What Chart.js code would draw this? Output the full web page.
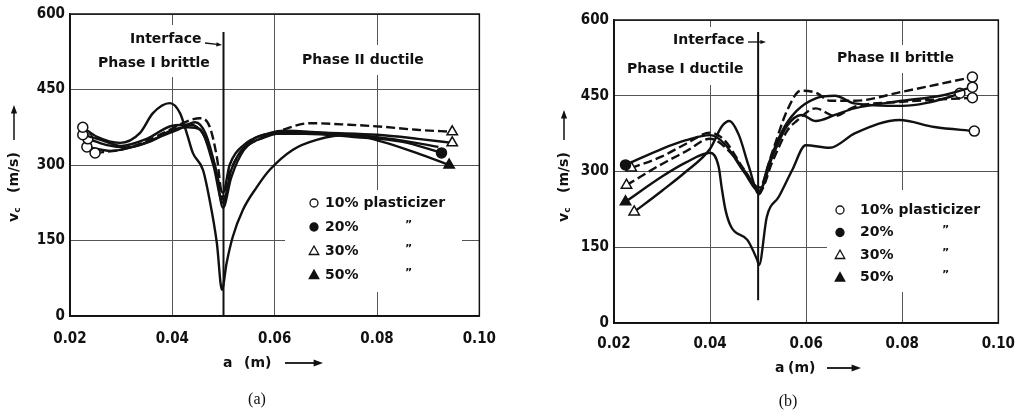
<!DOCTYPE html>
<html>
<head>
<meta charset="utf-8">
<script src="https://cdn.jsdelivr.net/npm/chart.js@4.4.1/dist/chart.umd.min.js"></script>
<style>
  body { margin: 0; background: #fff; width: 1027px; height: 412px; overflow: hidden; position: relative; }
  canvas { position: absolute; top: 0; }
  #chart-a { left: 0; }
  #chart-b { left: 510px; }
</style>
</head>
<body>
<canvas id="chart-a" width="510" height="412"></canvas>
<canvas id="chart-b" width="517" height="412"></canvas>
<script>
// axis ticks (both panels)
const xTicks = [0.02, 0.04, 0.06, 0.08, 0.1];
const yTicks = [0, 150, 300, 450, 600];
const interfaceX = 0.05;

const legendLabels = ["10% plasticizer", "20%", "30%", "50%"];
const legendMarks = ["circleOpen", "circleFilled", "triOpen", "triFilled"];

// panel (a): phase I brittle / phase II ductile
const a50X = [0.0225, 0.0253, 0.0298, 0.0337, 0.0362, 0.0395, 0.0415, 0.0428, 0.044, 0.046, 0.0473, 0.0487, 0.0497, 0.0506, 0.0518, 0.0538, 0.0565, 0.059, 0.0635, 0.0682, 0.0746, 0.0811, 0.0877, 0.0941];
const a50Y = [375, 356, 344, 364, 403, 423, 403, 364, 324, 290, 230, 145, 52, 105, 157, 211, 256, 290, 330, 350, 360, 346, 324, 300];
const a30dashX = [0.0249, 0.0298, 0.0342, 0.0395, 0.042, 0.0454, 0.0473, 0.0487, 0.0499, 0.0512, 0.0538, 0.0571, 0.0616, 0.0668, 0.0746, 0.0811, 0.0877, 0.0947];
const a30dashY = [324, 330, 344, 370, 383, 393, 376, 316, 232, 284, 330, 352, 370, 383, 380, 376, 370, 366];
const a30X = [0.0225, 0.026, 0.03, 0.035, 0.04, 0.0435, 0.046, 0.048, 0.0499, 0.0512, 0.054, 0.058, 0.062, 0.07, 0.08, 0.088, 0.0947];
const a30Y = [360, 350, 338, 352, 378, 380, 362, 310, 245, 300, 340, 360, 368, 364, 360, 352, 344];
const a20X = [0.0235, 0.027, 0.031, 0.036, 0.04, 0.043, 0.0455, 0.048, 0.0499, 0.0515, 0.055, 0.06, 0.066, 0.075, 0.085, 0.0926];
const a20Y = [352, 340, 335, 348, 370, 375, 370, 300, 225, 290, 345, 362, 362, 356, 346, 324];
const aOtherX = [0.0233, 0.028, 0.033, 0.038, 0.041, 0.0445, 0.0465, 0.0485, 0.0499, 0.0515, 0.054, 0.058, 0.064, 0.072, 0.08, 0.087, 0.092];
const aOtherY = [336, 328, 338, 358, 370, 385, 362, 290, 215, 275, 330, 355, 366, 362, 355, 345, 336];

// panel (b): phase I ductile / phase II brittle
const b20X = [0.0224, 0.03, 0.035, 0.04, 0.043, 0.047, 0.0502, 0.053, 0.056, 0.059, 0.062, 0.066, 0.07, 0.08, 0.088, 0.0946];
const b20Y = [313, 345, 362, 372, 355, 300, 262, 330, 390, 412, 400, 412, 425, 440, 450, 467];
const b30aX = [0.0236, 0.03, 0.035, 0.04, 0.043, 0.047, 0.0502, 0.053, 0.056, 0.0589, 0.062, 0.065, 0.07, 0.08, 0.0946];
const b30aY = [307, 330, 355, 377, 362, 305, 268, 340, 420, 460, 456, 440, 440, 458, 487];
const b30bX = [0.0226, 0.03, 0.035, 0.04, 0.044, 0.048, 0.0502, 0.053, 0.056, 0.058, 0.062, 0.066, 0.07, 0.08, 0.0946];
const b30bY = [273, 315, 340, 365, 340, 290, 258, 320, 380, 400, 425, 410, 428, 438, 446];
const b50X = [0.0224, 0.03, 0.035, 0.04, 0.0418, 0.0424, 0.0432, 0.0444, 0.0478, 0.0498, 0.0502, 0.0518, 0.0543, 0.0571, 0.0599, 0.0649, 0.0702, 0.0794, 0.0867, 0.095];
const b50Y = [240, 290, 318, 337, 309, 269, 224, 190, 164, 125, 115, 210, 250, 303, 352, 347, 376, 402, 388, 380];
const b30cX = [0.0242, 0.03, 0.035, 0.04, 0.0425, 0.044, 0.046, 0.048, 0.0502, 0.052, 0.055, 0.058, 0.062, 0.066, 0.07, 0.08, 0.09, 0.092];
const b30cY = [220, 262, 300, 345, 390, 400, 372, 312, 255, 310, 380, 420, 445, 450, 435, 430, 448, 455];

const ink = "#111";
const fontSans = "'DejaVu Sans', sans-serif";
const tickFont = { size: 15, weight: "bold", family: "'DejaVu Sans Condensed', " + fontSans };

function makeSet(xs, ys, startMark, endMark, dashed) {
  const n = xs.length;
  const radius = [], style = [], fill = [];
  for (let i = 0; i < n; i++) {
    const m = i === 0 ? startMark : i === n - 1 ? endMark : null;
    radius.push(m ? (m.startsWith("tri") ? 6 : 5) : 0);
    style.push(m && m.startsWith("tri") ? "triangle" : "circle");
    fill.push(m && m.endsWith("Filled") ? ink : "#fff");
  }
  return {
    data: xs.map((x, i) => ({ x: x, y: ys[i] })),
    borderColor: ink,
    borderWidth: 2.4,
    borderDash: dashed ? [9, 4] : [],
    cubicInterpolationMode: "monotone",
    pointRadius: radius,
    pointStyle: style,
    pointBackgroundColor: fill,
    pointBorderColor: ink,
    pointBorderWidth: 1.5,
  };
}

function drawMark(ctx, kind, x, y, r) {
  ctx.beginPath();
  if (kind.startsWith("tri")) {
    ctx.moveTo(x, y - r);
    ctx.lineTo(x + r * 0.95, y + r * 0.7);
    ctx.lineTo(x - r * 0.95, y + r * 0.7);
    ctx.closePath();
  } else {
    ctx.arc(x, y, r * 0.8, 0, Math.PI * 2);
  }
  ctx.fillStyle = kind.endsWith("Filled") ? ink : "#fff";
  ctx.fill();
  ctx.lineWidth = 1.3;
  ctx.strokeStyle = ink;
  ctx.stroke();
}

function drawArrow(ctx, x1, y1, x2, y2, head) {
  const ang = Math.atan2(y2 - y1, x2 - x1);
  ctx.beginPath();
  ctx.moveTo(x1, y1);
  ctx.lineTo(x2 - Math.cos(ang) * head * 0.8, y2 - Math.sin(ang) * head * 0.8);
  ctx.stroke();
  ctx.beginPath();
  ctx.moveTo(x2, y2);
  ctx.lineTo(x2 - head * Math.cos(ang - 0.35), y2 - head * Math.sin(ang - 0.35));
  ctx.lineTo(x2 - head * Math.cos(ang + 0.35), y2 - head * Math.sin(ang + 0.35));
  ctx.closePath();
  ctx.fill();
}

function decorPlugin(p) {
  return {
    id: "decor",
    beforeDatasetsDraw(chart) {
      const ctx = chart.ctx;
      const xs = chart.scales.x;
      const ys = chart.scales.y;
      const area = chart.chartArea;
      ctx.save();
      // white patches behind the labels and legend hide the grid
      ctx.fillStyle = "#fff";
      p.boxes.forEach((b) => ctx.fillRect(b[0], b[1], b[2], b[3]));
      ctx.strokeStyle = ink;
      ctx.lineWidth = 1.5;
      ctx.strokeRect(area.left, area.top, area.right - area.left, area.bottom - area.top);
      const ix = xs.getPixelForValue(interfaceX);
      ctx.lineWidth = 2;
      ctx.beginPath();
      ctx.moveTo(ix, ys.getPixelForValue(p.ifaceLow));
      ctx.lineTo(ix, ys.getPixelForValue(p.ifaceHigh));
      ctx.stroke();
      ctx.restore();
    },
    afterDraw(chart) {
      const ctx = chart.ctx;
      ctx.save();
      ctx.fillStyle = ink;
      ctx.strokeStyle = ink;
      ctx.textBaseline = "middle";
      ctx.textAlign = "left";
      ctx.font = "bold 14px " + fontSans;

      // labels inside the plot
      p.notes.forEach((t) => ctx.fillText(t[0], t[1], t[2]));
      ctx.lineWidth = 1.3;
      drawArrow(ctx, p.ifaceArrow[0], p.ifaceArrow[1], p.ifaceArrow[2], p.ifaceArrow[3], 6);

      // legend
      legendLabels.forEach((lab, i) => {
        const y = p.legend.y + i * p.legend.step;
        drawMark(ctx, legendMarks[i], p.legend.mark, y, 5);
        ctx.fillStyle = ink;
        ctx.font = "bold 14px " + fontSans;
        ctx.fillText(lab, p.legend.text, y);
        if (i > 0) {
          ctx.font = "bold 11px " + fontSans;
          ctx.fillText("\u201D", p.legend.ditto, y - 2);
        }
      });

      // y axis title: v_c (m/s) with arrow, read bottom to top
      ctx.save();
      ctx.translate(p.yTitle.x, p.yTitle.y);
      ctx.rotate(-Math.PI / 2);
      ctx.font = "bold 14px " + fontSans;
      ctx.fillText("v", 0, 0);
      const vw = ctx.measureText("v").width;
      ctx.font = "bold 9px " + fontSans;
      ctx.fillText("c", vw, 4);
      ctx.font = "bold 14px " + fontSans;
      ctx.fillText("(m/s)", 29, 0);
      ctx.lineWidth = 1.5;
      drawArrow(ctx, 82, 0, p.yTitle.arrowEnd, 0, 9);
      ctx.restore();

      // x axis title: a (m) with arrow
      ctx.font = "bold 14px " + fontSans;
      ctx.fillText("a", p.xTitle.a, p.xTitle.y);
      ctx.fillText("(m)", p.xTitle.m, p.xTitle.y);
      ctx.lineWidth = 1.8;
      drawArrow(ctx, p.xTitle.arrow[0], p.xTitle.y, p.xTitle.arrow[1], p.xTitle.y, 10);

      // panel caption
      ctx.font = "16px 'Liberation Serif', serif";
      ctx.textAlign = "center";
      ctx.fillText(p.caption[0], p.caption[1], p.caption[2]);
      ctx.restore();
    },
  };
}

function makeChart(canvasId, datasets, p) {
  return new Chart(document.getElementById(canvasId), {
    type: "line",
    data: { datasets: datasets },
    options: {
      responsive: false,
      animation: false,
      devicePixelRatio: 1,
      events: [],
      layout: { padding: { top: p.pad.top, right: p.pad.right, left: 0, bottom: 0 } },
      plugins: { legend: { display: false }, tooltip: { enabled: false } },
      scales: {
        x: {
          type: "linear",
          min: 0.02,
          max: 0.1,
          afterBuildTicks: (scale) => { scale.ticks = xTicks.map((v) => ({ value: v })); },
          afterFit: (scale) => { scale.height = p.pad.xHeight; },
          grid: { color: "#555", lineWidth: 1, drawTicks: false },
          border: { color: ink, width: 1.5 },
          ticks: {
            padding: p.pad.xTickPad,
            color: ink,
            maxRotation: 0,
            font: tickFont,
            callback: (v) => Number(v).toFixed(2),
          },
        },
        y: {
          min: 0,
          max: 600,
          afterBuildTicks: (scale) => { scale.ticks = yTicks.map((v) => ({ value: v })); },
          afterFit: (scale) => { scale.width = p.pad.yWidth; },
          grid: { color: "#555", lineWidth: 1, drawTicks: false },
          border: { color: ink, width: 1.5 },
          ticks: {
            padding: 5,
            color: ink,
            font: tickFont,
            callback: (v) => String(v),
          },
        },
      },
    },
    plugins: [decorPlugin(p)],
  });
}

const setsA = [
  makeSet(a50X, a50Y, "circleOpen", "triFilled", false),
  makeSet(a30dashX, a30dashY, "circleOpen", "triOpen", true),
  makeSet(a30X, a30Y, "circleOpen", "triOpen", false),
  makeSet(a20X, a20Y, "circleOpen", "circleFilled", false),
  makeSet(aOtherX, aOtherY, "circleOpen", null, false),
];

const setsB = [
  makeSet(b20X, b20Y, "circleFilled", "circleOpen", false),
  makeSet(b30aX, b30aY, "triOpen", "circleOpen", true),
  makeSet(b30bX, b30bY, "triOpen", "circleOpen", true),
  makeSet(b50X, b50Y, "triFilled", "circleOpen", false),
  makeSet(b30cX, b30cY, "triOpen", "circleOpen", false),
];

makeChart("chart-a", setsA, {
  pad: { top: 14, right: 30, xHeight: 96, yWidth: 70, xTickPad: 14 },
  ifaceLow: 0,
  ifaceHigh: 564,
  boxes: [[95, 25, 123, 52], [298, 45, 142, 30], [285, 190, 177, 102]],
  notes: [["Interface", 130, 39], ["Phase I brittle", 98, 63], ["Phase II ductile", 302, 60]],
  ifaceArrow: [205, 43, 222, 45],
  legend: { mark: 314, text: 325, ditto: 405, y: 203, step: 24 },
  yTitle: { x: 14, y: 222, arrowEnd: 117 },
  xTitle: { a: 223, m: 244, arrow: [285, 323], y: 363 },
  caption: ["(a)", 257, 400],
});

makeChart("chart-b", setsB, {
  pad: { top: 20, right: 10, xHeight: 89, yWidth: 104, xTickPad: 12 },
  ifaceLow: 45,
  ifaceHigh: 576,
  boxes: [[112, 27, 140, 58], [322, 45, 133, 28], [317, 190, 173, 102]],
  notes: [["Interface", 163, 40], ["Phase I ductile", 117, 69], ["Phase II brittle", 327, 58]],
  ifaceArrow: [238, 42, 256, 42],
  legend: { mark: 330, text: 350, ditto: 432, y: 210, step: 22.5 },
  yTitle: { x: 54, y: 222, arrowEnd: 112 },
  xTitle: { a: 265, m: 278, arrow: [317, 351], y: 368 },
  caption: ["(b)", 278, 402],
});
</script>
</body>
</html>
